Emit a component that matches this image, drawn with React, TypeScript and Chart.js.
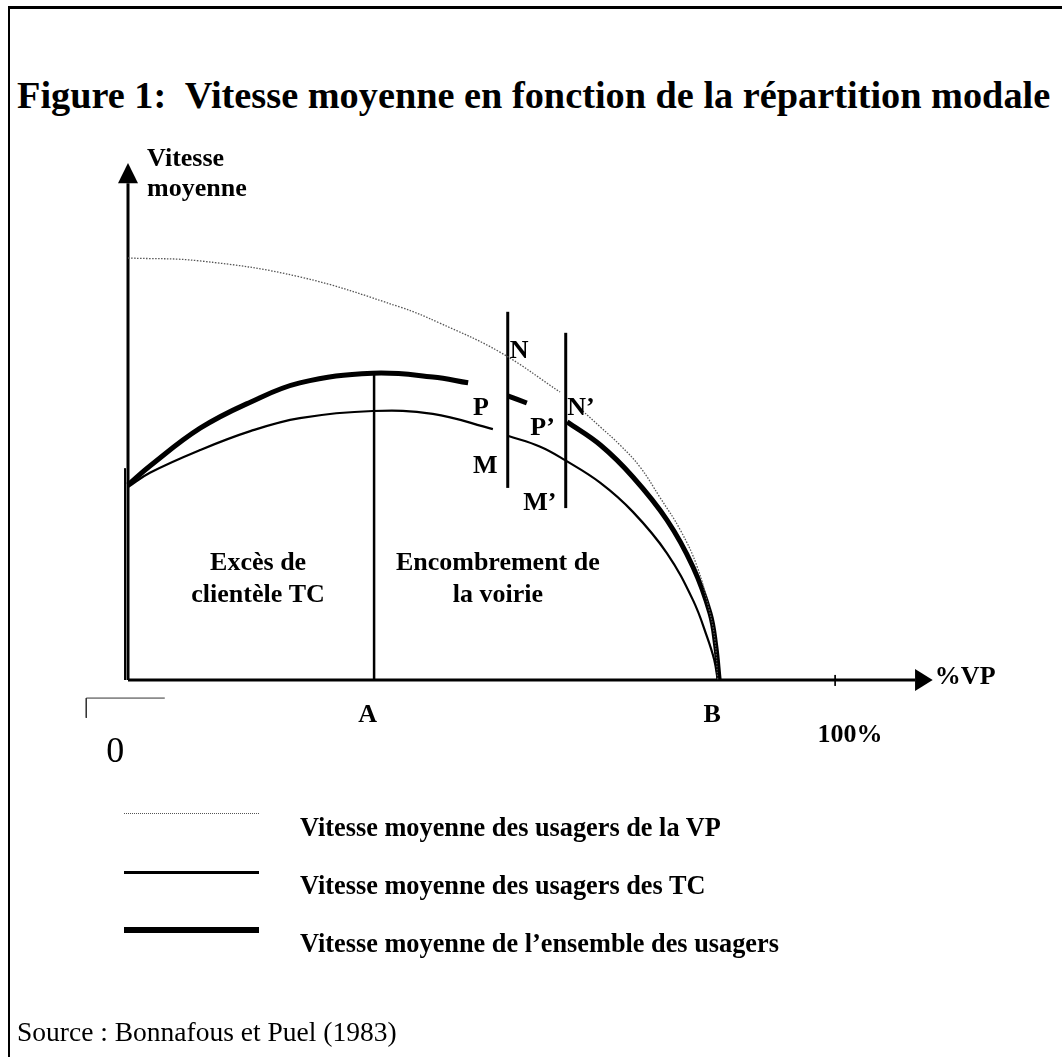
import React, { useEffect, useRef } from "react";
import { Chart, registerables } from "chart.js";

Chart.register(...registerables);

// ---- data (x: % VP, y: vitesse moyenne, arbitrary units) ----
const vpX = [0, 10.2, 24.3, 38.5, 44.1, 52.6, 61.1, 62.7, 64.3, 66.8, 69.7, 72.4, 75.2, 78.1, 80.5, 82.3, 83.0, 83.4];
const vpY = [100.4, 99.7, 95.9, 88.7, 84.9, 78.0, 68.5, null, 64.0, 60.2, 55.7, 50.7, 43.5, 35.7, 26.9, 15.9, 9.5, 0];

const tcX = [0, 3.1, 10.2, 17.3, 24.3, 34.6, 43.1, 51.6, 52.6, 53.7, 58.3, 61.8, 66.8, 71.4, 76.2, 79.9, 81.9, 82.9, 83.4];
const tcY = [45.9, 49.3, 54.7, 59.2, 62.3, 64.0, 63.3, 59.7, null, 58.1, 55.5, 52.3, 46.9, 40.0, 30.2, 19.0, 10.2, 4.8, 0];

const allX = [0, 3.1, 10.2, 17.3, 24.3, 34.6, 43.1, 48.1, 51.0, 53.7, 56.4, 59.0, 62.1, 66.8, 71.4, 76.2, 79.9, 82.3, 83.1, 83.6];
const allY = [46.4, 50.9, 59.9, 66.1, 70.7, 73.0, 72.1, 70.7, null, 67.6, 65.9, null, 61.4, 55.9, 48.3, 38.1, 26.9, 15.9, 8.3, 0];

// key abscissas
const pointA = 34.8;
const pointFull = 100;
const lineN = 53.7;
const lineNp = 61.9;

// vertical marker segments [x, yFrom, yTo]
const aSegment = [pointA, 0, 73.0];
const nSegment = [lineN, 45.7, 87.6];
const npSegment = [lineNp, 40.9, 82.6];

// axes extents
const yAxisTop = 118.2;
const yArrowTip = 123;
const xAxisEnd = 111.3;
const xArrowTip = 113.8;

// scale ranges
const xMax = 112;
const yMax = 123;

const labelsBold = [
  { t: "Vitesse", x: 2.7, y: 122.3, a: "left" },
  { t: "moyenne", x: 2.7, y: 115.2, a: "left" },
  { t: "%VP", x: 114.1, y: -1.0, a: "left" },
  { t: "A", x: 33.9, y: -10.0, a: "center" },
  { t: "B", x: 82.6, y: -10.0, a: "center" },
  { t: "100%", x: 102.1, y: -14.8, a: "center" },
  { t: "N", x: 54.0, y: 76.6, a: "left" },
  { t: "P", x: 48.8, y: 63.0, a: "left" },
  { t: "P\u2019", x: 56.9, y: 58.3, a: "left" },
  { t: "N\u2019", x: 62.1, y: 63.0, a: "left" },
  { t: "M", x: 48.8, y: 49.2, a: "left" },
  { t: "M\u2019", x: 55.9, y: 40.4, a: "left" },
  { t: "Exc\u00e8s de", x: 18.4, y: 26.2, a: "center" },
  { t: "client\u00e8le TC", x: 18.4, y: 18.6, a: "center" },
  { t: "Encombrement de", x: 52.3, y: 26.2, a: "center" },
  { t: "la voirie", x: 52.3, y: 18.6, a: "center" },
];

const legendItems = [
  { label: "Vitesse moyenne des usagers de la VP", kind: "dot" },
  { label: "Vitesse moyenne des usagers des TC", kind: "thin" },
  { label: "Vitesse moyenne de l\u2019ensemble des usagers", kind: "thick" },
];

const SERIF = '"Liberation Serif", "Times New Roman", serif';

function pts(xs: number[], ys: (number | null)[]) {
  return xs.map((x, i) => ({ x, y: ys[i] }));
}

function seg(s: number[]) {
  return [
    { x: s[0], y: s[1] },
    { x: s[0], y: s[2] },
  ];
}

function lineDs(data: any[], width: number, extra: any = {}) {
  return {
    data,
    showLine: true,
    borderColor: "#000",
    borderWidth: width,
    pointRadius: 0,
    tension: 0,
    spanGaps: false,
    clip: false,
    ...extra,
  };
}

const annotPlugin = {
  id: "annot",
  afterDatasetsDraw(chart: any) {
    const { ctx } = chart;
    const xs = chart.scales.x;
    const ys = chart.scales.y;
    const px = (v: number) => xs.getPixelForValue(v);
    const py = (v: number) => ys.getPixelForValue(v);
    ctx.save();
    ctx.fillStyle = "#000";
    // y arrow head
    ctx.beginPath();
    ctx.moveTo(px(0), py(yArrowTip));
    ctx.lineTo(px(0) - 10, py(yAxisTop));
    ctx.lineTo(px(0) + 10, py(yAxisTop));
    ctx.closePath();
    ctx.fill();
    // x arrow head
    ctx.beginPath();
    ctx.moveTo(px(xArrowTip), py(0));
    ctx.lineTo(px(xAxisEnd), py(0) - 11);
    ctx.lineTo(px(xAxisEnd), py(0) + 11);
    ctx.closePath();
    ctx.fill();
    // labels
    ctx.textBaseline = "alphabetic";
    ctx.font = `bold 26px ${SERIF}`;
    for (const l of labelsBold) {
      ctx.textAlign = l.a;
      ctx.fillText(l.t, px(l.x), py(l.y));
    }
    ctx.font = `36px ${SERIF}`;
    ctx.textAlign = "center";
    ctx.fillText("0", px(-1.8), py(-19.5));
    ctx.restore();
  },
};

export default function App() {
  const ref = useRef<HTMLCanvasElement>(null);

  useEffect(() => {
    if (!ref.current) return;
    const chart = new Chart(ref.current, {
      type: "scatter",
      data: {
        datasets: [
          lineDs(pts(vpX, vpY), 1.3, { borderColor: "#555", borderDash: [1.5, 1.5], tension: 0.4 }),
          lineDs(pts(tcX, tcY), 2.2, { tension: 0.4 }),
          lineDs(pts(allX, allY), 5, { tension: 0.4 }),
          // axes
          lineDs([{ x: 0, y: 0 }, { x: 0, y: yAxisTop }], 3),
          lineDs([{ x: 0, y: 0 }, { x: xAxisEnd, y: 0 }], 3),
          lineDs([{ x: -0.42, y: 0 }, { x: -0.42, y: 50.4 }], 2),
          // vertical markers
          lineDs(seg(aSegment), 2.5),
          lineDs(seg(nSegment), 3),
          lineDs(seg(npSegment), 3),
          // 100% tick
          lineDs([{ x: pointFull, y: 1.2 }, { x: pointFull, y: -1.4 }], 1),
          // zero bracket
          lineDs([{ x: 5.2, y: -4.3 }, { x: -5.9, y: -4.3 }, { x: -5.9, y: -9.0 }], 1, { borderColor: "#333" }),
        ],
      },
      options: {
        animation: false,
        responsive: false,
        events: [],
        layout: { padding: { left: 128, right: 142, top: 163, bottom: 377 } },
        scales: {
          x: { type: "linear", min: 0, max: xMax, display: false },
          y: { type: "linear", min: 0, max: yMax, display: false },
        },
        plugins: { legend: { display: false }, tooltip: { enabled: false } },
      },
      plugins: [annotPlugin],
    } as any);
    return () => chart.destroy();
  }, []);

  const legendTops = [815, 873, 931];
  const lineTops = [813, 870.5, 927];

  return (
    <div style={{ position: "absolute", left: 0, top: 0, width: 1062, height: 1057, background: "#fff", fontFamily: SERIF, color: "#000" }}>
      <div style={{ position: "absolute", left: 8, top: 6, right: 0, bottom: 0, borderLeft: "2px solid #000", borderTop: "3px solid #000" }} />
      <div style={{ position: "absolute", left: 17, top: 76, fontSize: 38.3, lineHeight: 1, fontWeight: "bold", whiteSpace: "pre" }}>
        {"Figure 1:  Vitesse moyenne en fonction de la r\u00e9partition modale"}
      </div>
      <canvas ref={ref} width={1062} height={1057} style={{ position: "absolute", left: 0, top: 0, width: 1062, height: 1057 }} />
      {legendItems.map((it, i) => (
        <React.Fragment key={i}>
          <div
            style={{
              position: "absolute",
              left: 124,
              width: 135,
              top: lineTops[i],
              height: 0,
              borderTop: it.kind === "dot" ? "1px dotted #555" : it.kind === "thin" ? "3px solid #000" : "6px solid #000",
            }}
          />
          <div style={{ position: "absolute", left: 300, top: legendTops[i], fontSize: 26.3, lineHeight: 1, fontWeight: "bold", whiteSpace: "pre" }}>
            {it.label}
          </div>
        </React.Fragment>
      ))}
      <div style={{ position: "absolute", left: 17, top: 1018, fontSize: 27.5, lineHeight: 1, whiteSpace: "pre" }}>
        {"Source : Bonnafous et Puel (1983)"}
      </div>
    </div>
  );
}
